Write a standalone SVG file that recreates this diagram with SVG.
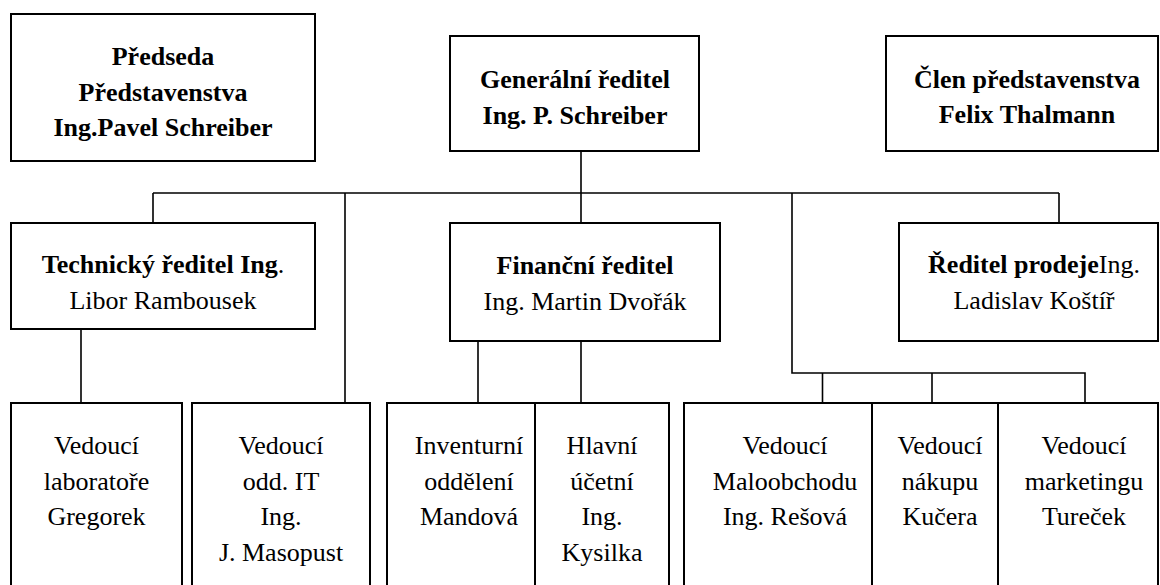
<svg xmlns="http://www.w3.org/2000/svg" width="1160" height="585" viewBox="0 0 1160 585" font-family="Liberation Serif, DejaVu Serif, serif" font-size="26">
<style>
.box{fill:#fff;stroke:#000;stroke-width:2}
.c{fill:none;stroke:#000;stroke-width:1.6}
.t{font-family:'Liberation Serif','DejaVu Serif',serif;font-size:26px;fill:#000;text-anchor:middle}
.b{font-weight:bold}
</style>
<rect width="1160" height="585" fill="#fff"/>
<g id="connectors">
<path class="c" d="M581 151V223M153 193H1059M153 193V223M345 193V403M1059 193V223M792 193V373H1085V403M822.5 373V403M932 373V403M81 329V403M478 341V403M581 341V403"/>
</g>
<g id="predseda">
<rect class="box" x="11" y="14" width="304" height="147"/>
<text class="t b" x="163" y="65">Předseda</text>
<text class="t b" x="163" y="100.5">Představenstva</text>
<text class="t b" x="163" y="136">Ing.Pavel Schreiber</text>
</g>
<g id="generalni">
<rect class="box" x="450" y="36" width="249" height="115"/>
<text class="t b" x="575" y="88">Generální ředitel</text>
<text class="t b" x="575" y="124">Ing. P. Schreiber</text>
</g>
<g id="clen">
<rect class="box" x="886" y="36" width="272" height="115"/>
<text class="t b" x="1027" y="87.5">Člen představenstva</text>
<text class="t b" x="1027" y="123">Felix Thalmann</text>
</g>
<g id="technicky">
<rect class="box" x="11" y="223" width="304" height="106"/>
<text class="t" x="163" y="272.5"><tspan class="b">Technický ředitel Ing</tspan>.</text>
<text class="t" x="163" y="308.5">Libor Rambousek</text>
</g>
<g id="financni">
<rect class="box" x="450" y="223" width="270" height="118"/>
<text class="t b" x="585" y="274">Finanční ředitel</text>
<text class="t" x="585" y="309.5">Ing. Martin Dvořák</text>
</g>
<g id="prodej">
<rect class="box" x="899" y="223" width="259" height="118"/>
<text class="t" x="1034" y="272.5"><tspan class="b">Ředitel prodeje</tspan>Ing.</text>
<text class="t" x="1034" y="308.5">Ladislav Koštíř</text>
</g>
<g id="laborator">
<rect class="box" x="11" y="403" width="171" height="200"/>
<text class="t" x="96.5" y="454">Vedoucí</text>
<text class="t" x="96.5" y="489.5">laboratoře</text>
<text class="t" x="96.5" y="525">Gregorek</text>
</g>
<g id="it">
<rect class="box" x="192" y="403" width="178" height="200"/>
<text class="t" x="281" y="454">Vedoucí</text>
<text class="t" x="281" y="489.5">odd. IT</text>
<text class="t" x="281" y="525">Ing.</text>
<text class="t" x="281" y="561">J. Masopust</text>
</g>
<g id="inventurni">
<rect class="box" x="387" y="403" width="148" height="200"/>
<text class="t" x="469" y="454">Inventurní</text>
<text class="t" x="469" y="489.5">oddělení</text>
<text class="t" x="469" y="525">Mandová</text>
</g>
<g id="ucetni">
<rect class="box" x="535" y="403" width="134" height="200"/>
<text class="t" x="602" y="454">Hlavní</text>
<text class="t" x="602" y="489.5">účetní</text>
<text class="t" x="602" y="525">Ing.</text>
<text class="t" x="602" y="561">Kysilka</text>
</g>
<g id="maloobchod">
<rect class="box" x="684" y="403" width="188" height="200"/>
<text class="t" x="785" y="454">Vedoucí</text>
<text class="t" x="785" y="489.5">Maloobchodu</text>
<text class="t" x="785" y="525">Ing. Rešová</text>
</g>
<g id="nakup">
<rect class="box" x="872" y="403" width="126" height="200"/>
<text class="t" x="940" y="454">Vedoucí</text>
<text class="t" x="940" y="489.5">nákupu</text>
<text class="t" x="940" y="525">Kučera</text>
</g>
<g id="marketing">
<rect class="box" x="998" y="403" width="160" height="200"/>
<text class="t" x="1084" y="454">Vedoucí</text>
<text class="t" x="1084" y="489.5">marketingu</text>
<text class="t" x="1084" y="525">Tureček</text>
</g>
</svg>
